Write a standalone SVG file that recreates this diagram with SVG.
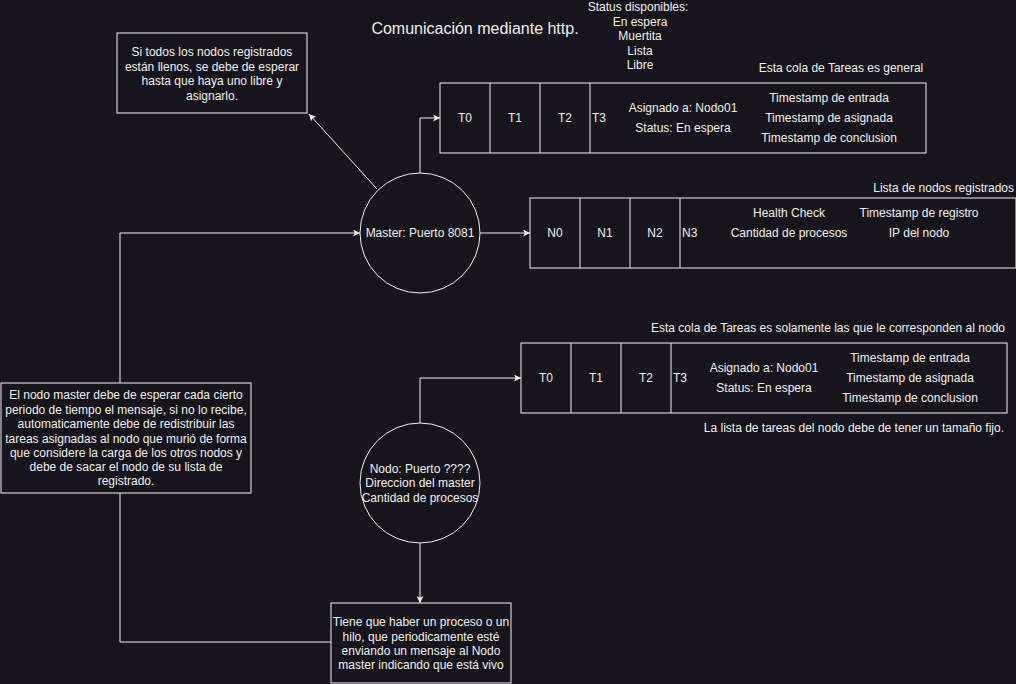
<svg xmlns="http://www.w3.org/2000/svg" width="1016" height="684" viewBox="0 0 1016 684">
  <style>
    .bg { fill: #18141d; }
    .box { fill: #18141d; stroke: #f0f0f0; stroke-width: 1; }
    .edge { fill: none; stroke: #f0f0f0; stroke-width: 1; }
    text { font-family: "Liberation Sans", Arial, Helvetica, sans-serif; font-size: 12px; fill: #f0f0f0; }
    .c { text-anchor: middle; }
    .r { text-anchor: end; }
    .title { font-size: 16px; }
  </style>
  <defs>
    <marker id="arrow" viewBox="0 0 10 10" refX="10" refY="5" markerWidth="7" markerHeight="7" markerUnits="userSpaceOnUse" orient="auto">
      <path d="M0,0 L10,5 L0,10 L2.5,5 Z" fill="#f0f0f0"/>
    </marker>
  </defs>
  <rect class="bg" x="0" y="0" width="1016" height="684"/>

  <!-- connectors -->
  <g id="connectors">
    <path class="edge" d="M377,189 L309,114" marker-end="url(#arrow)"/>
    <path class="edge" d="M420,173 L420,118 L440,118" marker-end="url(#arrow)"/>
    <path class="edge" d="M480,233 L530,233" marker-end="url(#arrow)"/>
    <path class="edge" d="M120,383 L120,233 L360,233" marker-end="url(#arrow)"/>
    <path class="edge" d="M420,423 L420,378 L521,378" marker-end="url(#arrow)"/>
    <path class="edge" d="M420,543 L420,603" marker-end="url(#arrow)"/>
    <path class="edge" d="M331,642 L120,642 L120,493"/>
  </g>

  <!-- free labels -->
  <g id="labels">
    <text class="c title" x="475" y="34">Comunicación mediante http.</text>
    <text class="c" x="638" y="11">Status disponibles:</text>
    <text class="c" x="640" y="26">En espera</text>
    <text class="c" x="640" y="40">Muertita</text>
    <text class="c" x="640" y="55">Lista</text>
    <text class="c" x="640" y="69">Libre</text>
    <text class="c" x="841" y="72">Esta cola de Tareas es general</text>
    <text class="r" x="1014" y="192">Lista de nodos registrados</text>
    <text class="r" x="1005" y="332">Esta cola de Tareas es solamente las que le corresponden al nodo</text>
    <text class="r" x="1004" y="432">La lista de tareas del nodo debe de tener un tamaño fijo.</text>
  </g>

  <!-- note: full node list -->
  <g id="note-full">
    <rect class="box" x="117" y="33" width="190" height="80"/>
    <text class="c" x="212" y="56">Si todos los nodos registrados</text>
    <text class="c" x="212" y="71">están llenos, se debe de esperar</text>
    <text class="c" x="212" y="85">hasta que haya uno libre y</text>
    <text class="c" x="212" y="100">asignarlo.</text>
  </g>

  <!-- general task queue -->
  <g id="general-queue">
    <rect class="box" x="440" y="83" width="486" height="70"/>
    <path class="edge" d="M490,83 V153 M540,83 V153 M590,83 V153"/>
    <text class="c" x="465" y="122">T0</text>
    <text class="c" x="515" y="122">T1</text>
    <text class="c" x="565" y="122">T2</text>
    <text x="592" y="122">T3</text>
    <text class="c" x="683" y="112">Asignado a: Nodo01</text>
    <text class="c" x="683" y="132">Status: En espera</text>
    <text class="c" x="829" y="102">Timestamp de entrada</text>
    <text class="c" x="829" y="122">Timestamp de asignada</text>
    <text class="c" x="829" y="142">Timestamp de conclusion</text>
  </g>

  <!-- master -->
  <g id="master">
    <circle class="box" cx="420" cy="233" r="60"/>
    <text class="c" x="420" y="237">Master: Puerto 8081</text>
  </g>

  <!-- registered node list -->
  <g id="node-list">
    <rect class="box" x="530" y="198" width="486" height="70"/>
    <path class="edge" d="M580,198 V268 M630,198 V268 M680,198 V268"/>
    <text class="c" x="555" y="237">N0</text>
    <text class="c" x="605" y="237">N1</text>
    <text class="c" x="655" y="237">N2</text>
    <text x="682" y="237">N3</text>
    <text class="c" x="789" y="217">Health Check</text>
    <text class="c" x="789" y="237">Cantidad de procesos</text>
    <text class="c" x="919" y="217">Timestamp de registro</text>
    <text class="c" x="919" y="237">IP del nodo</text>
  </g>

  <!-- note: master timeout -->
  <g id="note-timeout">
    <rect class="box" x="1" y="383" width="250" height="110"/>
    <text class="c" x="126" y="399">El nodo master debe de esperar cada cierto</text>
    <text class="c" x="126" y="414">periodo de tiempo el mensaje, si no lo recibe,</text>
    <text class="c" x="126" y="428">automaticamente debe de redistribuir las</text>
    <text class="c" x="126" y="443">tareas asignadas al nodo que murió de forma</text>
    <text class="c" x="126" y="457">que considere la carga de los otros nodos y</text>
    <text class="c" x="126" y="471">debe de sacar el nodo de su lista de</text>
    <text class="c" x="126" y="485">registrado.</text>
  </g>

  <!-- node task queue -->
  <g id="node-queue">
    <rect class="box" x="521" y="343" width="486" height="70"/>
    <path class="edge" d="M571,343 V413 M621,343 V413 M671,343 V413"/>
    <text class="c" x="546" y="382">T0</text>
    <text class="c" x="596" y="382">T1</text>
    <text class="c" x="646" y="382">T2</text>
    <text x="673" y="382">T3</text>
    <text class="c" x="764" y="372">Asignado a: Nodo01</text>
    <text class="c" x="764" y="392">Status: En espera</text>
    <text class="c" x="910" y="362">Timestamp de entrada</text>
    <text class="c" x="910" y="382">Timestamp de asignada</text>
    <text class="c" x="910" y="402">Timestamp de conclusion</text>
  </g>

  <!-- worker node -->
  <g id="worker">
    <circle class="box" cx="420" cy="483" r="60"/>
    <text class="c" x="420" y="473">Nodo: Puerto ????</text>
    <text class="c" x="420" y="487">Direccion del master</text>
    <text class="c" x="420" y="502">Cantidad de procesos</text>
  </g>

  <!-- note: heartbeat -->
  <g id="note-heartbeat">
    <rect class="box" x="331" y="603" width="180" height="80"/>
    <text class="c" x="421" y="626">Tiene que haber un proceso o un</text>
    <text class="c" x="421" y="641">hilo, que periodicamente esté</text>
    <text class="c" x="421" y="655">enviando un mensaje al Nodo</text>
    <text class="c" x="421" y="669">master indicando que está vivo</text>
  </g>
</svg>
